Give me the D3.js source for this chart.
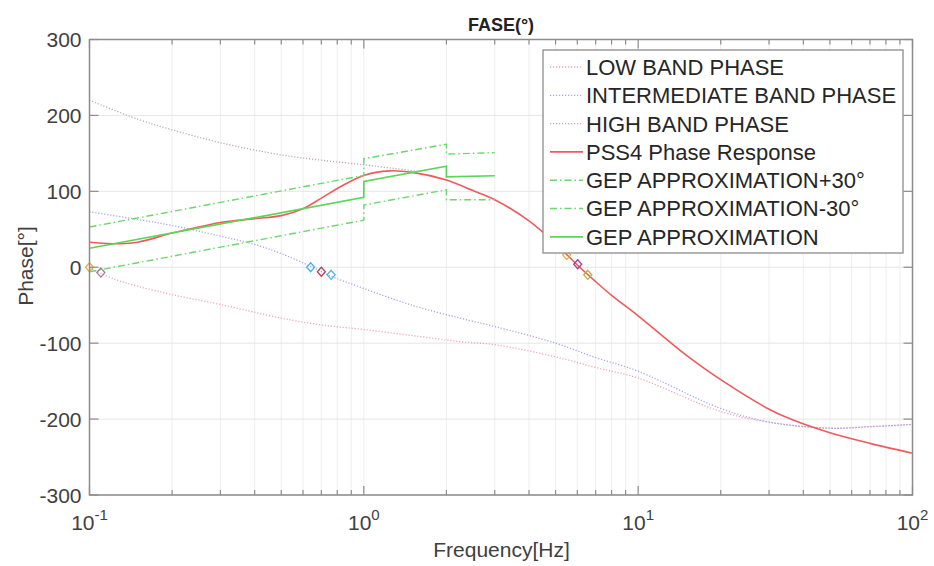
<!DOCTYPE html>
<html>
<head>
<meta charset="utf-8">
<script src="https://cdn.jsdelivr.net/npm/d3@7"></script>
<style>
  body { margin: 0; background: #fff; }
  text { font-family: "Liberation Sans", Arial, sans-serif; }
</style>
</head>
<body>
<svg id="chart" width="934" height="566"></svg>
<script>
// phase curves, [frequency Hz, phase deg]
var lowBand = [[0.1, -1], [0.124, -16], [0.15, -25], [0.2, -36], [0.3, -49], [0.5, -67], [0.7, -76],
  [1, -82], [1.5, -90], [2.24, -98], [3, -102], [5, -118], [7, -132], [10, -146], [20, -190],
  [30, -204], [50, -212], [70, -210], [100, -207]];
var intBand = [[0.1, 73], [0.15, 63], [0.2, 55], [0.3, 41], [0.4, 30], [0.5, 18], [0.65, 0], [0.75, -11],
  [1, -28], [1.5, -50], [2.24, -67], [3, -78], [5, -100], [7, -119], [10, -137], [20, -186],
  [30, -204], [50, -212], [70, -210], [100, -207]];
var highBand = [[0.1, 220], [0.15, 195], [0.2, 181], [0.3, 164], [0.5, 148], [0.7, 141], [1, 135],
  [1.3, 130], [1.6, 126]];
var pss4 = [[0.1, 33], [0.129, 31], [0.15, 33], [0.2, 45], [0.25, 53], [0.3, 59], [0.4, 64], [0.5, 68],
  [0.6, 77], [0.7, 91], [0.84, 108], [1, 121], [1.24, 127], [1.5, 125], [2, 115],
  [2.5, 101], [3, 89], [4, 61], [5, 31], [6, 3], [7, -19], [8, -37],
  [10, -64], [13.2, -100], [15, -116], [20, -148], [30, -187], [36.5, -201], [50, -218], [70, -232], [100, -245]];
var gep = [[0.1, 25], [1, 92], [1, 113], [2, 133], [2, 119], [3, 120.5]];
var gepPlus = [[0.1, 53], [1, 121], [1, 143], [2, 162], [2, 149], [3, 151]];
var gepMinus = [[0.1, -6], [1, 62], [1, 82], [2, 102], [2, 89], [3, 89]];

// diamond markers [frequency, phase, colour]
var markers = [[0.1, 0, "#e8b040"], [0.11, -7, "#9a7a9a"], [0.64, 0, "#50b0e0"], [0.7, -6, "#c04050"],
  [0.76, -10, "#50b0e0"], [5.49, 16, "#e8b040"], [6.02, 4, "#a04090"], [6.55, -10, "#b0b040"]];

var yTicks = [-300, -200, -100, 0, 100, 200, 300];
var xTicks = [0.1, 1, 10, 100];
var xTickExp = ["-1", "0", "1", "2"];

var seriesNames = ["LOW BAND PHASE", "INTERMEDIATE BAND PHASE", "HIGH BAND PHASE",
  "PSS4 Phase Response", "GEP APPROXIMATION+30°", "GEP APPROXIMATION-30°", "GEP APPROXIMATION"];

var svg = d3.select("#chart"),
    margin = {top: 39.5, right: 21.5, bottom: 71, left: 89.5},
    width = +svg.attr("width") - margin.left - margin.right,
    height = +svg.attr("height") - margin.top - margin.bottom,
    g = svg.append("g").attr("transform", "translate(" + margin.left + "," + margin.top + ")");

var x = d3.scaleLog().domain([0.1, 100]).range([0, width]);
var y = d3.scaleLinear().domain([-300, 300]).range([height, 0]);

var styles = [
  {data: lowBand, color: "#f2a4b6", width: 1.3, dash: "1.2,1.8"},
  {data: intBand, color: "#a4a4f0", width: 1.3, dash: "1.2,1.8"},
  {data: highBand, color: "#b9a9b9", width: 1.3, dash: "1.2,1.8"},
  {data: pss4, color: "#f05a5e", width: 1.6, dash: null},
  {data: gepPlus, color: "#6ad86a", width: 1.4, dash: "7,3,1.5,3"},
  {data: gepMinus, color: "#6ad86a", width: 1.4, dash: "7,3,1.5,3"},
  {data: gep, color: "#5ad65a", width: 1.7, dash: null}
];

// grid
var minorX = [];
[0.1, 1, 10].forEach(function(d) { for (var k = 1; k <= 9; k++) minorX.push(d * k); });
minorX.push(100);

g.append("g").selectAll("line").data(minorX).enter().append("line")
    .attr("x1", function(d) { return x(d); }).attr("x2", function(d) { return x(d); })
    .attr("y1", 0).attr("y2", height)
    .attr("stroke", "#eeeeee").attr("stroke-width", 1);

g.append("g").selectAll("line").data(yTicks).enter().append("line")
    .attr("x1", 0).attr("x2", width)
    .attr("y1", function(d) { return y(d); }).attr("y2", function(d) { return y(d); })
    .attr("stroke", "#e6e6e6").attr("stroke-width", 1);

var line = d3.line()
    .x(function(d) { return x(d[0]); })
    .y(function(d) { return y(d[1]); })
    .curve(d3.curveCatmullRom.alpha(0.5));

var lineStraight = d3.line()
    .x(function(d) { return x(d[0]); })
    .y(function(d) { return y(d[1]); });

styles.forEach(function(s, i) {
  g.append("path")
      .datum(s.data)
      .attr("fill", "none")
      .attr("stroke", s.color)
      .attr("stroke-width", s.width)
      .attr("stroke-dasharray", s.dash)
      .attr("d", i >= 4 ? lineStraight : line);
});

// markers
g.append("g").selectAll("path").data(markers).enter().append("path")
    .attr("transform", function(d) { return "translate(" + x(d[0]) + "," + y(d[1]) + ")"; })
    .attr("d", "M0,-4.5L4,0L0,4.5L-4,0Z")
    .attr("fill", "none")
    .attr("stroke", function(d) { return d[2]; })
    .attr("stroke-width", 1.3);

// axes box and ticks
var axisColor = "#8c8c8c";
g.append("rect").attr("width", width).attr("height", height)
    .attr("fill", "none").attr("stroke", axisColor).attr("stroke-width", 1.5);

var ticksG = g.append("g").attr("stroke", axisColor).attr("stroke-width", 1.2);
minorX.forEach(function(d) {
  var len = xTicks.indexOf(d) >= 0 ? 9 : 5;
  ticksG.append("line").attr("x1", x(d)).attr("x2", x(d)).attr("y1", height).attr("y2", height - len);
  ticksG.append("line").attr("x1", x(d)).attr("x2", x(d)).attr("y1", 0).attr("y2", len);
});
yTicks.forEach(function(d) {
  ticksG.append("line").attr("x1", 0).attr("x2", 9).attr("y1", y(d)).attr("y2", y(d));
  ticksG.append("line").attr("x1", width).attr("x2", width - 9).attr("y1", y(d)).attr("y2", y(d));
});

// tick labels
g.append("g").selectAll("text").data(yTicks).enter().append("text")
    .attr("x", -8).attr("y", function(d) { return y(d); })
    .attr("dy", "0.36em")
    .attr("text-anchor", "end")
    .attr("font-size", 21)
    .attr("fill", "#404040")
    .text(function(d) { return d; });

var xl = g.append("g").selectAll("text").data(xTicks).enter().append("text")
    .attr("x", function(d) { return x(d); })
    .attr("y", height + 35)
    .attr("text-anchor", "middle")
    .attr("font-size", 21)
    .attr("fill", "#404040");
xl.append("tspan").text("10");
xl.append("tspan").attr("dy", -10).attr("font-size", 15).text(function(d, i) { return xTickExp[i]; });

// labels and title
svg.append("text")
    .attr("x", margin.left + x(Math.sqrt(10)) + 0.5)
    .attr("y", 557)
    .attr("text-anchor", "middle")
    .attr("font-size", 21)
    .attr("fill", "#404040")
    .text("Frequency[Hz]");

svg.append("text")
    .attr("transform", "translate(33,266) rotate(-90)")
    .attr("text-anchor", "middle")
    .attr("font-size", 21)
    .attr("fill", "#404040")
    .text("Phase[°]");

svg.append("text")
    .attr("x", 501)
    .attr("y", 31)
    .attr("text-anchor", "middle")
    .attr("font-size", 18)
    .attr("font-weight", "bold")
    .attr("fill", "#222")
    .text("FASE(°)");

// legend
var legend = svg.append("g").attr("transform", "translate(543,50)");
legend.append("rect").attr("width", 360).attr("height", 203)
    .attr("fill", "#fff").attr("stroke", "#8c8c8c").attr("stroke-width", 1.3);

var item = legend.selectAll("g.item").data(seriesNames).enter().append("g")
    .attr("class", "item")
    .attr("transform", function(d, i) { return "translate(0," + (17 + i * 28.3) + ")"; });

item.append("line")
    .attr("x1", 7).attr("x2", 40)
    .attr("stroke", function(d, i) { return styles[i].color; })
    .attr("stroke-width", function(d, i) { return styles[i].width; })
    .attr("stroke-dasharray", function(d, i) { return styles[i].dash; });

item.append("text")
    .attr("x", 43)
    .attr("dy", "0.36em")
    .attr("font-size", 22)
    .attr("fill", "#262626")
    .text(function(d) { return d; });
</script>
</body>
</html>
